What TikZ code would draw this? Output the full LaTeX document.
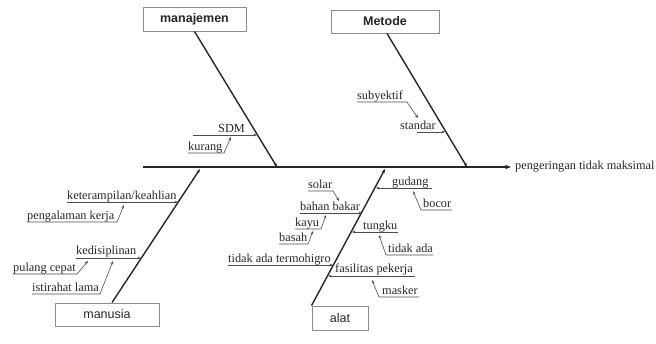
\documentclass[tikz,border=0pt]{standalone}
\usepackage{fontspec}
\setmainfont{Liberation Serif}
\newfontfamily\boxfont{Liberation Sans}
\usetikzlibrary{arrows.meta}
\tikzset{
 lbl/.style={font=\fontsize{12.3}{14}\selectfont, inner sep=0pt, anchor=base west, text=black!85},
 catbox/.style={draw=black!45, line width=0.9pt, inner sep=0pt, fill=white, font=\boxfont\fontsize{12.5}{14}\selectfont, text=black!85},
 bone/.style={line width=1.4pt, draw=black!85, -{Stealth[length=4pt,width=3pt]}},
 spine/.style={line width=1.8pt, draw=black!85, -{Stealth[length=6pt,width=4.5pt]}},
 sub/.style={line width=0.6pt, draw=black!70, -{Stealth[length=3.5pt,width=2.8pt]}},
}
\begin{document}
\begin{tikzpicture}[x=1pt,y=-1pt]
\useasboundingbox (0,0) rectangle (656,343);
% category boxes
\node[catbox, minimum width=103pt, minimum height=24pt] (manaj) at (194.5,19) {\textbf{manajemen}};
\node[catbox, minimum width=108pt, minimum height=23pt] (meto) at (385,21.5) {\textbf{Metode}};
\node[catbox, minimum width=104pt, minimum height=23pt] (manus) at (107,314.5) {manusia};
\node[catbox, minimum width=56pt, minimum height=24pt] (alat) at (340,318) {alat};
% effect and spine
\node[lbl, anchor=west] (eff) at (515,167) {pengeringan tidak maksimal};
\coordinate (s0) at (143,167);
\draw[spine] (s0) -- ([xshift=-4pt]eff.west);
% bones
\coordinate (mjend) at (277,167);
\coordinate (mtend) at (467,167);
\coordinate (mnend) at (200,169);
\coordinate (alend) at (385,169);
\draw[bone] (manaj.south) -- (mjend);
\draw[bone] ([xshift=2pt]meto.south) -- (mtend);
\draw[bone] ([xshift=5pt]manus.north) -- (mnend);
\draw[bone] (alat.north west) -- (alend);
% manajemen causes
\node[lbl] (sdm) at (218,132) {SDM};
\coordinate (sdmL) at (193,135); \coordinate (sdmB) at (257,135);
\draw[sub] (sdmL) -- (sdmB);
\node[lbl] (kur) at (188,150) {kurang};
\coordinate (kurL) at (188,153); \coordinate (kurK) at (224,153); \coordinate (kurE) at (231,137);
\draw[sub] (kurL) -- (kurK) -- (kurE);
% metode causes
\node[lbl] (suby) at (357,99) {subyektif};
\coordinate (subL) at (357,102); \coordinate (subK) at (407,102); \coordinate (subE) at (418,118);
\draw[sub] (subL) -- (subK) -- (subE);
\node[lbl] (std) at (400,129) {standar};
\coordinate (stdL) at (417,132); \coordinate (stdB) at (445,132);
\draw[sub] (stdL) -- (stdB);
% manusia causes
\node[lbl] (ket) at (67,199) {keterampilan/keahlian};
\coordinate (ketL) at (67,202); \coordinate (ketB) at (178,202);
\draw[sub] (ketL) -- (ketB);
\node[lbl] (peng) at (27,219) {pengalaman kerja};
\coordinate (pengL) at (27,222); \coordinate (pengK) at (117,222); \coordinate (pengE) at (124,205);
\draw[sub] (pengL) -- (pengK) -- (pengE);
\node[lbl] (kedi) at (76,254) {kedisiplinan};
\coordinate (kediL) at (76,258); \coordinate (kediB) at (141,258);
\draw[sub] (kediL) -- (kediB);
\node[lbl] (pul) at (13,271) {pulang cepat};
\coordinate (pulL) at (13,274); \coordinate (pulK) at (77,274); \coordinate (pulE) at (88,261);
\draw[sub] (pulL) -- (pulK) -- (pulE);
\node[lbl] (ist) at (32,291) {istirahat lama};
\coordinate (istL) at (32,294); \coordinate (istK) at (100,294); \coordinate (istE) at (113,261);
\draw[sub] (istL) -- (istK) -- (istE);
% alat causes (left)
\node[lbl] (sol) at (308,188) {solar};
\coordinate (solL) at (308,191); \coordinate (solK) at (333,191); \coordinate (solE) at (339,201);
\draw[sub] (solL) -- (solK) -- (solE);
\node[lbl] (bah) at (300,210) {bahan bakar};
\coordinate (bahL) at (300,213); \coordinate (bahB) at (362,213);
\draw[sub] (bahL) -- (bahB);
\node[lbl] (kay) at (295,226) {kayu};
\coordinate (kayL) at (295,229); \coordinate (kayK) at (321,229); \coordinate (kayE) at (326,215);
\draw[sub] (kayL) -- (kayK) -- (kayE);
\node[lbl] (bas) at (279,241) {basah};
\coordinate (basL) at (279,244); \coordinate (basK) at (308,244); \coordinate (basE) at (313,231);
\draw[sub] (basL) -- (basK) -- (basE);
\node[lbl] (term) at (228,262) {tidak ada termohigro};
\coordinate (termL) at (228,265); \coordinate (termB) at (333,265);
\draw[sub] (termL) -- (termB);
% alat causes (right)
\node[lbl] (gud) at (392,185) {gudang};
\coordinate (gudR) at (432,188); \coordinate (gudB) at (376,188);
\draw[sub] (gudR) -- (gudB);
\node[lbl] (boc) at (423,207) {bocor};
\coordinate (bocR) at (452,210); \coordinate (bocK) at (421,210); \coordinate (bocE) at (413,191);
\draw[sub] (bocR) -- (bocK) -- (bocE);
\node[lbl] (tung) at (363,229) {tungku};
\coordinate (tungR) at (398,232); \coordinate (tungB) at (352,232);
\draw[sub] (tungR) -- (tungB);
\node[lbl] (tad) at (388,252) {tidak ada};
\coordinate (tadR) at (433,255); \coordinate (tadK) at (386,255); \coordinate (tadE) at (379,235);
\draw[sub] (tadR) -- (tadK) -- (tadE);
\node[lbl] (fas) at (335,272) {fasilitas pekerja};
\coordinate (fasR) at (415,276); \coordinate (fasB) at (328,276);
\draw[sub] (fasR) -- (fasB);
\node[lbl] (mask) at (382,294) {masker};
\coordinate (maskR) at (419,297); \coordinate (maskK) at (379,297); \coordinate (maskE) at (372,280);
\draw[sub] (maskR) -- (maskK) -- (maskE);
\end{tikzpicture}
\end{document}
